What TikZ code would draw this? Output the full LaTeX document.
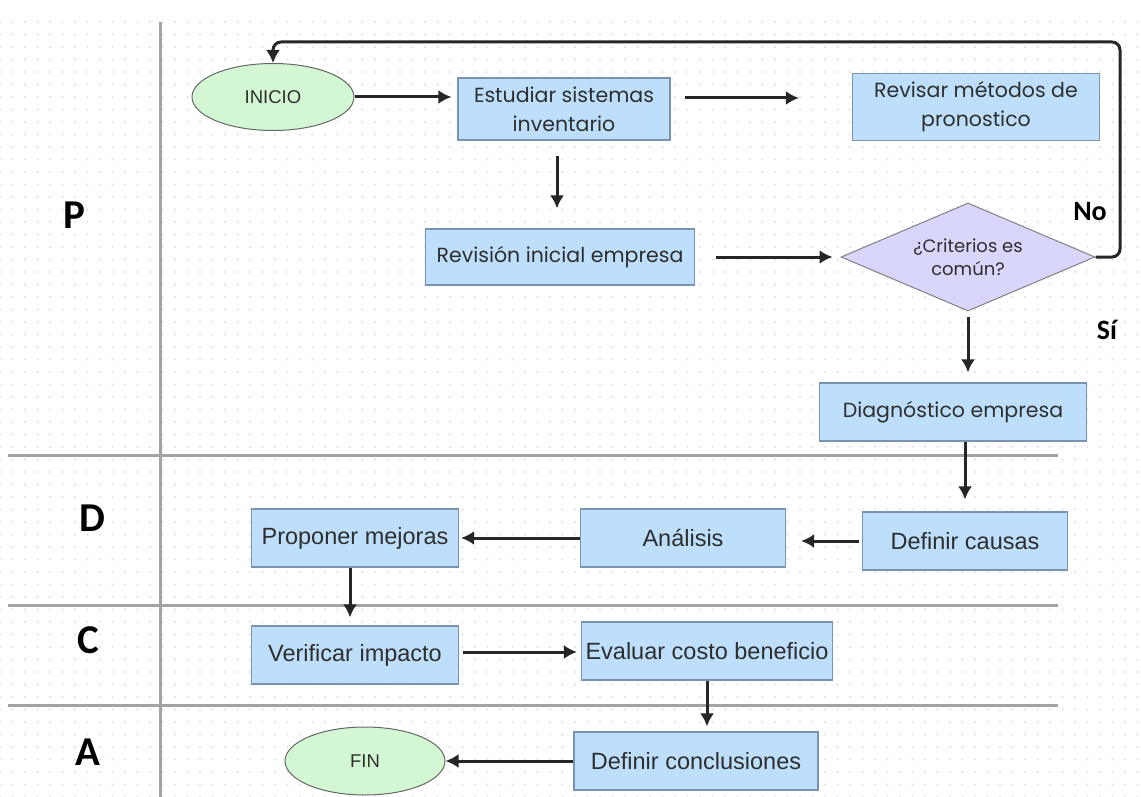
\documentclass[tikz,border=0pt]{standalone}
\usepackage{fontspec}
\setmainfont{Liberation Sans}
\newfontfamily\lexfont{Poppins}
\newfontfamily\carfont{Carlito}
\usetikzlibrary{shapes.geometric,arrows.meta,patterns.meta}
\definecolor{azulcaja}{HTML}{BDDFFB}
\definecolor{bordecaja}{HTML}{7A93AE}
\definecolor{verdeterm}{HTML}{D3F6D3}
\definecolor{lila}{HTML}{D9D6FC}
\definecolor{linea}{HTML}{A3A3A3}
\definecolor{texto}{HTML}{2E2E2E}
\tikzset{
	caja/.style={draw=bordecaja, line width=1.2pt, fill=azulcaja, text=texto, align=center, inner sep=0pt},
	terminal/.style={ellipse, draw=black!60, line width=1pt, fill=verdeterm, text=texto, inner sep=0pt, font=\fontsize{18.5}{20}\selectfont},
	decision/.style={diamond, draw=black!50, line width=1pt, fill=lila, text=texto, align=center, inner sep=-15pt, font=\lexfont\fontsize{18}{23}\selectfont},
	flecha/.style={->, line width=3pt, draw=black!85, >={Latex[length=13pt,width=14pt]}},
	carril/.style={line width=3pt, draw=linea},
	etapa/.style={font=\carfont\bfseries\fontsize{41}{44}\selectfont, inner sep=0pt},
	rama/.style={font=\carfont\bfseries\fontsize{28}{30}\selectfont, inner sep=0pt},
	lex/.style={font=\lexfont\fontsize{20.5}{29}\selectfont},
	ari/.style={font=\fontsize{23.5}{26}\selectfont}
}
\begin{document}
\begin{tikzpicture}[x=1pt, y=-1pt]
	\useasboundingbox (0,0) rectangle (1141,797);
	\fill[white] (0,0) rectangle (1141,797);
	\fill[pattern={Dots[distance=12.5pt, radius=1.1pt]}, pattern color=black!13] (0,20) rectangle (1141,797);

	\draw[carril] (160,22) -- (160,797);
	\draw[carril] (8,455) -- (1058,455);
	\draw[carril] (8,605) -- (1058,605);
	\draw[carril] (8,705) -- (1058,705);

	\draw (74,215) node[etapa] (P) {P};
	\draw (92,518) node[etapa] (D) {D};
	\draw (88,640) node[etapa] (C) {C};
	\draw (88,752) node[etapa] (A) {A};

	\draw (273,97) node[terminal, minimum width=162, minimum height=67] (inicio) {INICIO};
	\draw (564,109) node[caja, lex, minimum width=212, minimum height=62] (estudiar) {Estudiar sistemas\\inventario};
	\draw (976,107) node[caja, lex, minimum width=247, minimum height=67] (revisar) {Revisar métodos de\\pronostico};
	\draw (560,257) node[caja, lex, minimum width=269, minimum height=56] (revision) {Revisión inicial empresa};
	\draw (968,257) node[decision, minimum width=254, minimum height=108] (diamante) {¿Criterios es\\común?};
	\draw (953,412) node[caja, lex, minimum width=267, minimum height=58] (diagnostico) {Diagnóstico empresa};

	\draw (965,541) node[caja, ari, minimum width=205, minimum height=58] (causas) {Definir causas};
	\draw (683,538) node[caja, ari, minimum width=205, minimum height=58] (analisis) {Análisis};
	\draw (355,538) node[caja, ari, minimum width=207, minimum height=58] (proponer) {Proponer mejoras};

	\draw (355,655) node[caja, ari, minimum width=207, minimum height=58] (verificar) {Verificar impacto};
	\draw (707,651) node[caja, ari, minimum width=251, minimum height=58] (evaluar) {Evaluar costo beneficio};

	\draw (696,761) node[caja, ari, minimum width=244, minimum height=58] (conclusiones) {Definir conclusiones};
	\draw (365,761) node[terminal, minimum width=160, minimum height=68] (fin) {FIN};

	\draw (1090,212) node[rama] (no) {No};
	\draw (1107,330) node[rama] (si) {Sí};

	\draw[flecha, shorten >=6pt] (inicio.east) -- (inicio.east -| estudiar.west);
	\draw[flecha, shorten <=14pt, shorten >=53pt] ([yshift=11]estudiar.east) -- ([yshift=11]estudiar.east -| revisar.west);
	\draw[flecha, shorten <=15pt, shorten >=20pt] ([xshift=-7]estudiar.south) -- ([xshift=-7]estudiar.south |- revision.north);
	\draw[flecha, shorten <=21pt, shorten >=8pt] (revision.east) -- (diamante.west);
	\draw[flecha, rounded corners=8pt] (diamante.east) -- (1120,257) -- (1120,42) -- (273,42) -- (inicio.north);
	\draw[flecha, shorten <=5pt, shorten >=10pt] (diamante.south) -- (diamante.south |- diagnostico.north);
	\draw[flecha, shorten >=12pt] (diagnostico.south -| causas.north) -- (causas.north);
	\draw[flecha, shorten <=3pt, shorten >=15pt] (causas.west) -- (causas.west -| analisis.east);
	\draw[flecha, shorten >=2pt] (analisis.west) -- (proponer.east);
	\draw[flecha, shorten >=8pt] ([xshift=-5]proponer.south) -- ([xshift=-5]verificar.north);
	\draw[flecha, shorten <=4pt, shorten >=4pt] ([yshift=3]verificar.east) -- ([yshift=3]verificar.east -| evaluar.west);
	\draw[flecha, shorten >=5pt] (evaluar.south) -- (evaluar.south |- conclusiones.north);
	\draw[flecha] (conclusiones.west) -- (fin.east);
\end{tikzpicture}
\end{document}
